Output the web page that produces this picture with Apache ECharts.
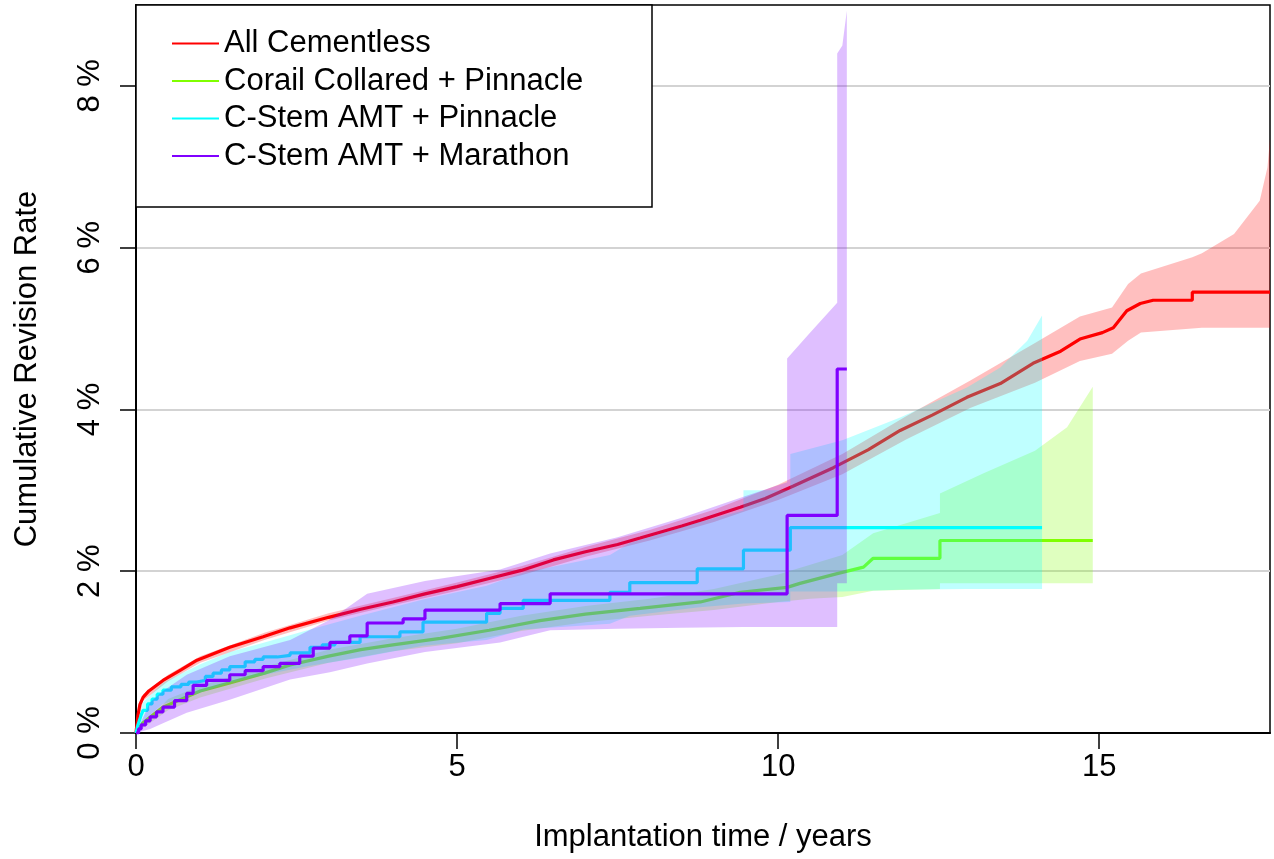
<!DOCTYPE html>
<html>
<head>
<meta charset="utf-8">
<script src="https://cdn.jsdelivr.net/npm/echarts@6/dist/echarts.min.js"></script>
<style>
  html, body { margin: 0; padding: 0; background: #fff; }
  #content { width: 1274px; height: 859px; }
</style>
</head>
<body>
<div id="content"></div>
<script>
// names of the four curves
var seriesNames = ['All Cementless', 'Corail Collared + Pinnacle', 'C-Stem AMT + Pinnacle', 'C-Stem AMT + Marathon'];
var seriesColors = ['#FF0000', '#80FF00', '#00FFFF', '#8000FF'];
var bandColors = ['rgba(255,0,0,0.25)', 'rgba(128,255,0,0.25)', 'rgba(0,255,255,0.25)', 'rgba(128,0,255,0.25)'];

var xTicks = [0, 5, 10, 15];
var yTicks = [0, 2, 4, 6, 8];

// [years, revision %]
var redLine = [[0,0],[0.03,0.22],[0.06,0.35],[0.11,0.44],[0.2,0.52],[0.42,0.65],[0.7,0.78],[0.95,0.9],[1.46,1.06],[1.98,1.19],
  [2.4,1.3],[3,1.43],[3.5,1.53],[4,1.62],[4.5,1.72],[5,1.81],[5.5,1.91],[6,2.01],[6.5,2.14],[7,2.24],[7.5,2.33],[7.85,2.41],
  [8.5,2.56],[8.79,2.63],[9.41,2.79],[9.8,2.9],[10.23,3.05],[10.86,3.28],[11.4,3.5],[11.9,3.74],[12.4,3.93],[12.94,4.15],
  [13.46,4.32],[13.97,4.57],[14.4,4.72],[14.7,4.87],[15.05,4.95],[15.22,5.01],[15.43,5.22],[15.64,5.31],[15.84,5.35],
  [16.45,5.35],[16.45,5.45],[17.66,5.45]];

var greenLine = [[0,0],[0.1,0.12],[0.42,0.32],[1,0.52],[1.46,0.62],[2,0.74],[2.4,0.84],[3,0.95],[3.5,1.03],[4,1.09],
  [4.74,1.17],[5.5,1.27],[6.29,1.39],[7,1.47],[7.85,1.54],[8.79,1.62],[9.41,1.74],[10.14,1.8],[10.34,1.85],[10.92,1.97],
  [11.33,2.05],[11.48,2.16],[12.52,2.16],[12.52,2.38],[14.9,2.38]];

var cyanLine = [[0,0],[0.03,0.1],[0.05,0.15],[0.08,0.22],[0.11,0.28],[0.18,0.36],[0.25,0.42],[0.33,0.48],[0.42,0.53],[0.55,0.57],
  [0.7,0.6],[0.82,0.63],[0.95,0.65],[1.08,0.7],[1.2,0.74],[1.33,0.78],[1.46,0.82],[1.7,0.88],[1.85,0.91],
  [1.98,0.94],[2.2,0.96],[2.4,0.99],[2.71,1.06],[2.9,1.09],[3.1,1.12],[3.49,1.19],[4.11,1.25],[4.47,1.37],[5.46,1.48],[5.67,1.54],[6.03,1.64],
  [7.38,1.74],[7.69,1.86],[8.74,2.03],[9.46,2.26],[10.19,2.54],[14.11,2.54]];

var purpleLine = [[0,0],[0.04,0.05],[0.08,0.1],[0.15,0.15],[0.22,0.2],[0.32,0.26],[0.42,0.32],[0.6,0.4],[0.79,0.49],[0.89,0.59],[1.1,0.65],[1.46,0.72],[1.7,0.77],
  [1.98,0.82],[2.24,0.86],[2.55,0.95],[2.76,1.05],[3.02,1.12],[3.33,1.2],[3.6,1.36],[4.16,1.41],[4.5,1.52],[5.67,1.6],
  [6.45,1.72],[10.14,2.69],[10.92,4.5],[11.07,4.5]];

// confidence bands [years, lower %, upper %]
var redBand = [[0,0,0],[0.11,0.4,0.48],[0.5,0.64,0.72],[1,0.87,0.95],[2,1.15,1.24],[3,1.39,1.48],[4,1.58,1.67],[5,1.76,1.86],
  [6,1.95,2.06],[7,2.18,2.3],[8,2.38,2.51],[9,2.61,2.76],[10,2.88,3.07],[11,3.2,3.45],[12,3.63,3.92],[13,4.02,4.36],
  [14,4.33,4.82],[14.7,4.6,5.15],[15.2,4.69,5.26],[15.45,4.85,5.55],[15.65,4.95,5.68],[16.45,5.0,5.88],[16.6,5.01,5.93],
  [17.1,5.01,6.17],[17.5,5.01,6.58],[17.62,5.01,6.99],[17.66,5.01,7.35]];

var greenBand = [[0,0,0],[0.5,0.28,0.42],[1,0.44,0.58],[2,0.67,0.82],[3,0.87,1.03],[4,1.01,1.17],[5,1.11,1.29],[6,1.26,1.45],
  [7,1.37,1.57],[8,1.45,1.66],[9,1.52,1.78],[10,1.62,1.96],[10.5,1.66,2.08],[11,1.68,2.2],[11.48,1.76,2.47],[12.52,1.78,2.72],
  [12.52,1.85,2.96],[13.2,1.85,3.21],[14,1.85,3.49],[14.5,1.85,3.78],[14.86,1.85,4.23],[14.9,1.85,4.28]];

var cyanBand = [[0,0,0],[0.11,0.15,0.38],[0.42,0.36,0.62],[1,0.5,0.85],[1.46,0.62,1.0],[2,0.72,1.12],[2.71,0.83,1.28],
  [3.49,0.93,1.45],[4.47,1.08,1.65],[5.46,1.15,1.82],[6.03,1.28,1.98],[7.38,1.35,2.2],[7.69,1.45,2.35],[8.74,1.55,2.6],
  [9.46,1.6,2.75],[9.46,1.6,3.0],[10.19,1.62,3.0],[10.19,1.75,3.45],[11,1.75,3.62],[11.9,1.77,3.9],[12.94,1.78,4.27],
  [13.46,1.78,4.52],[13.88,1.78,4.85],[14.11,1.78,5.16]];

var purpleBand = [[0,0,0],[0.22,0.05,0.38],[0.42,0.12,0.52],[0.79,0.25,0.72],[1.46,0.41,0.95],[2.4,0.66,1.15],[3.02,0.75,1.4],
  [3.6,0.86,1.72],[4.5,1.0,1.88],[5.67,1.12,2.02],[6.45,1.27,2.22],[7.5,1.29,2.42],[8.5,1.3,2.66],[9.46,1.31,2.92],
  [10.14,1.31,3.1],[10.14,1.31,4.63],[10.5,1.31,4.95],[10.92,1.31,5.32],[10.92,1.85,8.4],[11,1.85,8.5],[11.07,1.85,8.93]];

var fontFam = '"Liberation Sans", Arial, Helvetica, sans-serif';

function bandSeries(name, band, fill, z) {
    return {
        type: 'custom',
        name: name,
        z: z,
        silent: true,
        clip: true,
        data: band,
        encode: { x: 0, y: [1, 2] },
        renderItem: function (params, api) {
            if (params.dataIndex !== 0) return null;
            var pts = [];
            for (var i = 0; i < band.length; i++) pts.push(api.coord([band[i][0], band[i][2]]));
            for (var j = band.length - 1; j >= 0; j--) pts.push(api.coord([band[j][0], band[j][1]]));
            return { type: 'polygon', shape: { points: pts }, style: { fill: fill } };
        }
    };
}

function lineSeries(name, data, color, step, z) {
    return {
        type: 'line',
        name: name,
        z: z,
        data: data,
        step: step,
        color: color,
        showSymbol: false,
        symbol: 'none',
        lineStyle: { color: color, width: 3.2 },
        silent: true
    };
}

var myChart = echarts.init(document.getElementById('content'));

var option = {
    animation: false,
    backgroundColor: '#fff',
    grid: {
        left: 136, right: 4, top: 5, bottom: 126,
        show: true, borderColor: '#000', borderWidth: 1.5, backgroundColor: 'transparent'
    },
    xAxis: {
        type: 'value',
        min: 0, max: 17.66, interval: 5,
        name: 'Implantation time / years',
        nameLocation: 'middle',
        nameGap: 89,
        nameTextStyle: { fontSize: 31, color: '#000', fontFamily: fontFam },
        axisLine: { lineStyle: { color: '#000', width: 2 } },
        axisTick: { show: true, length: 16, lineStyle: { color: '#000', width: 1.5 }, customValues: xTicks },
        axisLabel: { fontSize: 31, color: '#000', fontFamily: fontFam, margin: 19, customValues: xTicks },
        splitLine: { show: false }
    },
    yAxis: {
        type: 'value',
        min: 0, max: 9, interval: 2,
        name: 'Cumulative Revision Rate',
        nameLocation: 'middle',
        nameGap: 93,
        nameTextStyle: { fontSize: 31, color: '#000', fontFamily: fontFam },
        axisLine: { show: true, lineStyle: { color: '#000', width: 2 } },
        axisTick: { show: true, length: 16, lineStyle: { color: '#000', width: 1.5 }, customValues: yTicks },
        axisLabel: {
            fontSize: 31, color: '#000', fontFamily: fontFam, margin: 30, rotate: 90,
            customValues: yTicks,
            formatter: function (v) { return v + ' %'; }
        },
        splitLine: { show: true, lineStyle: { color: '#d3d3d3', width: 2 } }
    },
    legend: {
        orient: 'vertical',
        left: 172, top: 28,
        padding: 0,
        itemGap: 6.5,
        itemWidth: 47, itemHeight: 2,
        icon: 'rect',
        z: 21,
        data: seriesNames,
        textStyle: { fontSize: 31, lineHeight: 31, color: '#000', fontFamily: fontFam },
        selectedMode: false
    },
    graphic: [{
        type: 'rect',
        z: 20,
        shape: { x: 136, y: 5, width: 516, height: 202 },
        style: { fill: '#fff', stroke: '#000', lineWidth: 1.5 }
    }],
    series: [
        bandSeries('band0', redBand, bandColors[0], 2),
        lineSeries(seriesNames[0], redLine, seriesColors[0], false, 3),
        bandSeries('band1', greenBand, bandColors[1], 4),
        lineSeries(seriesNames[1], greenLine, seriesColors[1], false, 5),
        bandSeries('band2', cyanBand, bandColors[2], 6),
        lineSeries(seriesNames[2], cyanLine, seriesColors[2], 'end', 7),
        bandSeries('band3', purpleBand, bandColors[3], 8),
        lineSeries(seriesNames[3], purpleLine, seriesColors[3], 'end', 9)
    ]
};

myChart.setOption(option);
</script>
</body>
</html>
